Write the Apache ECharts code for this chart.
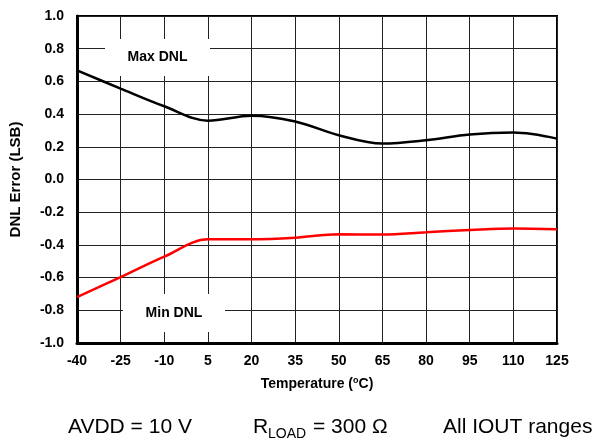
<!DOCTYPE html>
<html>
<head>
<meta charset="utf-8">
<script src="https://cdn.jsdelivr.net/npm/echarts@6/dist/echarts.min.js"></script>
<style>
  html, body { margin: 0; padding: 0; background: #fff; }
  #chart { width: 597px; height: 442px; }
</style>
</head>
<body>
<div id="chart"></div>
<script>
// temperature steps (°C)
const temps = ['-40', '-25', '-10', '5', '20', '35', '50', '65', '80', '95', '110', '125'];

// DNL error readings (LSB)
const maxDnl = [0.667, 0.556, 0.448, 0.36, 0.39, 0.355, 0.271, 0.22, 0.24, 0.275, 0.287, 0.25];
const minDnl = [-0.719, -0.597, -0.472, -0.366, -0.366, -0.356, -0.335, -0.337, -0.323, -0.309, -0.299, -0.305];

const FONT = '"Liberation Sans", Arial, sans-serif';

const chart = echarts.init(document.getElementById('chart'));

// white label box sitting on top of the grid, under the curves
function labelBox(x, y, w, h, text) {
  return {
    type: 'group',
    left: x,
    top: y,
    z: 2,
    children: [
      { type: 'rect', z: 2, shape: { x: 0, y: 0, width: w, height: h }, style: { fill: '#fff' } },
      {
        type: 'text',
        z: 2,
        x: w / 2,
        y: h / 2,
        style: { text: text, font: 'bold 14px ' + FONT, fill: '#000', align: 'center', verticalAlign: 'middle' }
      }
    ]
  };
}

const option = {
  animation: false,
  grid: {
    left: 77, right: 40, top: 16, bottom: 99,
    show: true, borderColor: '#000', borderWidth: 2, backgroundColor: 'transparent'
  },
  xAxis: {
    type: 'category',
    data: temps,
    boundaryGap: false,
    name: '{a|Temperature (}{sup|o}{a|C)}',
    nameLocation: 'middle',
    nameGap: 33,
    nameTextStyle: {
      rich: {
        a: { fontFamily: FONT, fontWeight: 'bold', fontSize: 14, color: '#000', lineHeight: 17 },
        sup: { fontFamily: FONT, fontWeight: 'bold', fontSize: 9, color: '#000', verticalAlign: 'top', lineHeight: 10 }
      }
    },
    axisLine: { onZero: false, lineStyle: { color: '#000', width: 3 } },
    axisTick: { show: false },
    axisLabel: { interval: 0, margin: 11, color: '#000', fontFamily: FONT, fontWeight: 'bold', fontSize: 14 },
    splitLine: { show: true, lineStyle: { color: '#222', width: 1 } }
  },
  yAxis: {
    type: 'value',
    min: -1,
    max: 1,
    interval: 0.2,
    name: 'DNL Error (LSB)',
    nameLocation: 'middle',
    nameGap: 54,
    nameTextStyle: { color: '#000', fontFamily: FONT, fontWeight: 'bold', fontSize: 15 },
    axisLine: { show: true, lineStyle: { color: '#000', width: 3 } },
    axisTick: { show: false },
    axisLabel: {
      margin: 13, color: '#000', fontFamily: FONT, fontWeight: 'bold', fontSize: 14,
      formatter: v => v.toFixed(1)
    },
    splitLine: { show: true, lineStyle: { color: '#222', width: 1 } }
  },
  series: [
    {
      name: 'Max DNL',
      type: 'line',
      data: maxDnl,
      smooth: 0.35,
      symbol: 'none',
      z: 5,
      lineStyle: { color: '#000', width: 2.5 }
    },
    {
      name: 'Min DNL',
      type: 'line',
      data: minDnl,
      smooth: 0.35,
      symbol: 'none',
      z: 5,
      lineStyle: { color: '#ff0000', width: 2.5 }
    }
  ],
  graphic: [
    labelBox(105, 39, 105, 37, 'Max DNL'),
    labelBox(123, 294, 102, 38, 'Min DNL'),
    {
      type: 'text', left: 68, top: 417,
      style: { text: 'AVDD = 10 V', font: '21px ' + FONT, fill: '#000' }
    },
    {
      type: 'text', left: 253, top: 417,
      style: { text: 'R', font: '21px ' + FONT, fill: '#000' }
    },
    {
      type: 'text', left: 268, top: 427,
      style: { text: 'LOAD', font: '14px ' + FONT, fill: '#000' }
    },
    {
      type: 'text', left: 313, top: 417,
      style: { text: '= 300 Ω', font: '21px ' + FONT, fill: '#000' }
    },
    {
      type: 'text', left: 443, top: 417,
      style: { text: 'All IOUT ranges', font: '21px ' + FONT, fill: '#000' }
    }
  ]
};

chart.setOption(option);
</script>
</body>
</html>
